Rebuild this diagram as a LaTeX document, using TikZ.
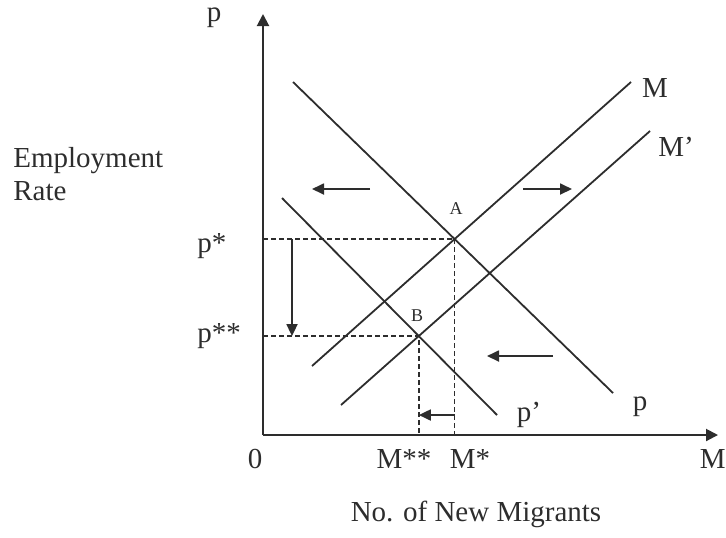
\documentclass[tikz,border=0pt]{standalone}
\usepackage{fontspec}
\setmainfont{Liberation Serif}
\usetikzlibrary{arrows.meta}
\definecolor{ink}{RGB}{45,45,45}
\tikzset{
  curve/.style={draw=ink, line width=0.9pt},
  axis/.style={draw=ink, line width=1pt, -{Triangle[length=6pt,width=6pt]}},
  guide/.style={draw=ink, line width=0.8pt, dash pattern=on 2.5pt off 1.5pt},
  movearrow/.style={draw=ink, line width=0.9pt, -{Triangle[length=6pt,width=5.5pt]}},
  lbl/.style={text=ink, inner sep=0pt, font=\fontsize{14.5}{16.5}\selectfont},
  pt/.style={text=ink, inner sep=0pt, font=\fontsize{9}{10}\selectfont},
}
\begin{document}
\begin{tikzpicture}[x=0.5pt,y=-0.5pt]
\useasboundingbox (0,0) rectangle (726,537);
% axes
\coordinate (O) at (263,435);
\coordinate (ytop) at (263,14);
\coordinate (xend) at (718,435);
\draw[axis] (O) -- (ytop);
\draw[axis] (O) -- (xend);
% curve end points
\coordinate (p1) at (293,82);   \coordinate (p2) at (613,393);
\coordinate (m1) at (312,366);  \coordinate (m2) at (631,82);
\coordinate (q1) at (282,198);  \coordinate (q2) at (497,415);
\coordinate (n1) at (341,405);  \coordinate (n2) at (650,131);
\coordinate (A) at (intersection of p1--p2 and m1--m2);
\coordinate (B) at (intersection of q1--q2 and n1--n2);
% guides
\draw[guide] (O |- A) -- (A) -- (A |- O);
\draw[guide] (O |- B) -- (B) -- (B |- O);
% curves
\draw[curve] (p1) -- (p2);
\draw[curve] (m1) -- (m2);
\draw[curve] (q1) -- (q2);
\draw[curve] (n1) -- (n2);
% shift arrows
\coordinate (a1s) at (370,189); \coordinate (a1e) at (312,189);
\coordinate (a2s) at (523,189); \coordinate (a2e) at (572,189);
\coordinate (a3s) at (553,356); \coordinate (a3e) at (487,356);
\coordinate (dx) at (292,0);
\draw[movearrow] (a1s) -- (a1e);
\draw[movearrow] (a2s) -- (a2e);
\draw[movearrow] (a3s) -- (a3e);
\draw[movearrow] (dx |- A) -- (dx |- B);
\coordinate (bl) at (0,415);
\draw[movearrow] (A |- bl) -- (B |- bl);
% labels
\node[lbl] (lp) at (214,18) {p};
\node[lbl, anchor=base west] (lemp) at (13,167) {Employment};
\node[lbl, anchor=base west] (lrate) at (13,200) {Rate};
\node[lbl, anchor=base west] (lps) at (197,252) {p*};
\node[lbl, anchor=base west] (lpss) at (197,342) {p**};
\node[lbl, anchor=base] (l0) at (255,468) {0};
\node[lbl, anchor=base] (lmss) at (404,468) {M**};
\node[lbl, anchor=base] (lms) at (470,468) {M*};
\node[lbl, anchor=base east] (lmx) at (726,468) {M};
\node[lbl, anchor=base] (ltitle) at (476,521) {No. of New Migrants};
\node[lbl] (lm) at (655,88) {M};
\node[lbl] (lmp) at (676,147) {M'};
\node[lbl] (lpr) at (640,407) {p};
\node[lbl] (lpp) at (529,415) {p'};
\node[pt] (lA) at (456,209) {A};
\node[pt] (lB) at (417,316) {B};
\end{tikzpicture}
\end{document}
